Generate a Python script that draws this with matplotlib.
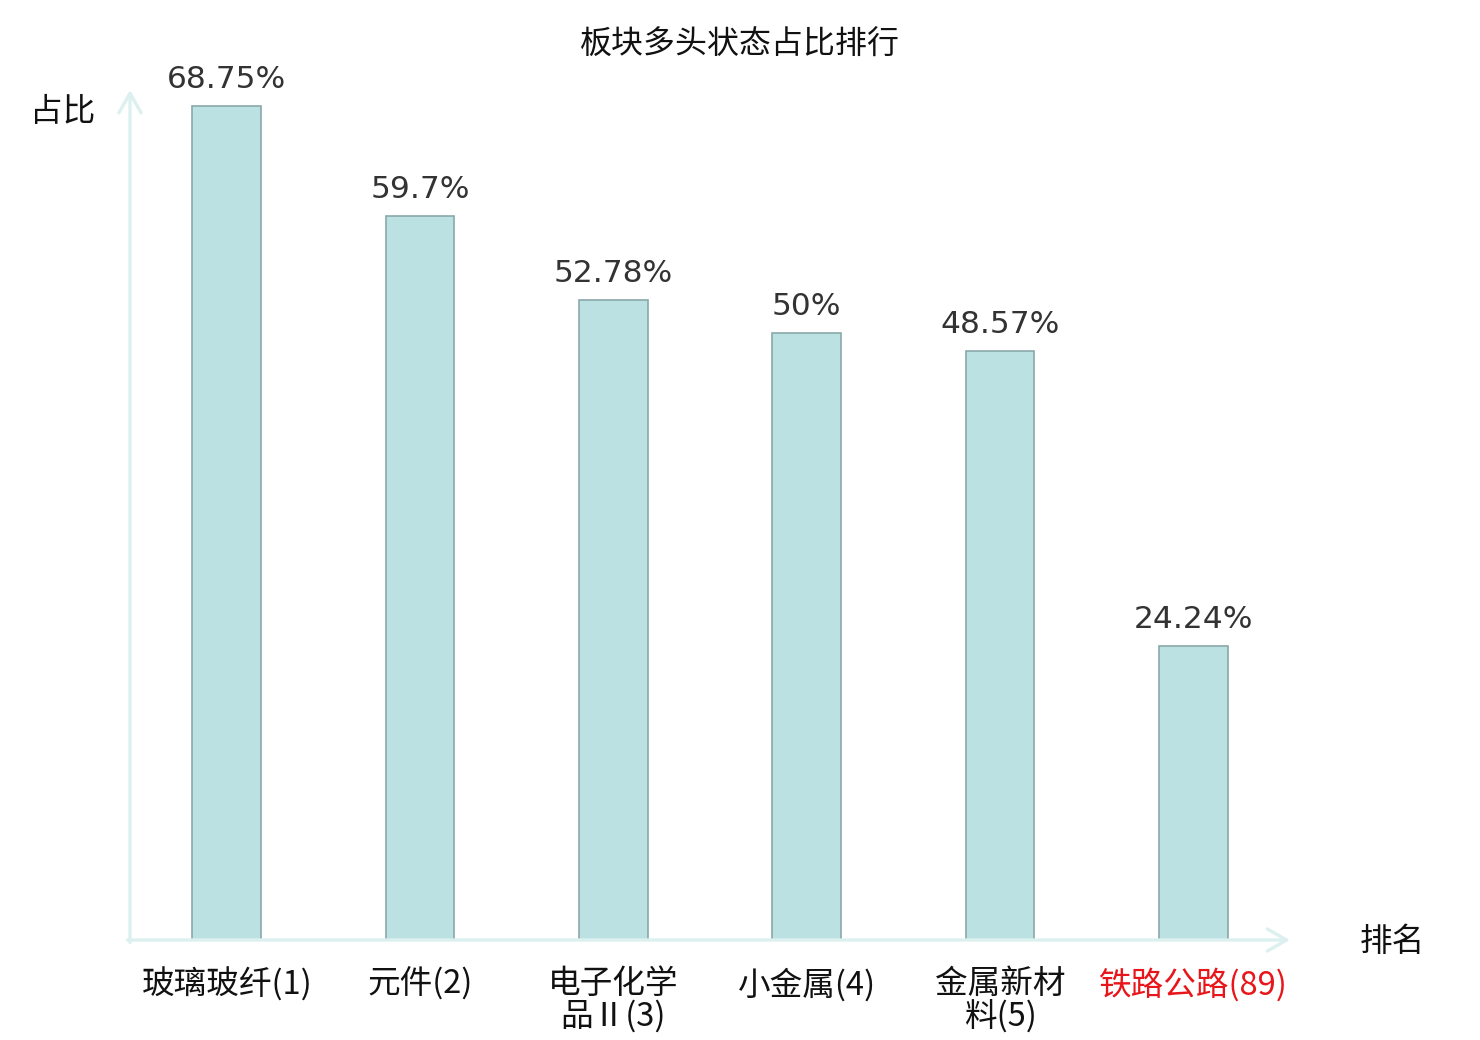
import matplotlib
matplotlib.use('Agg')
import matplotlib.pyplot as plt
import numpy as np

plt.rcParams['font.family'] = ['Noto Sans CJK SC', 'DejaVu Sans']

# data
categories = ['玻璃玻纤(1)', '元件(2)', '电子化学\n品Ⅱ(3)', '小金属(4)', '金属新材\n料(5)', '铁路公路(89)']
values = [68.75, 59.7, 52.78, 50, 48.57, 24.24]
value_labels = ['68.75%', '59.7%', '52.78%', '50%', '48.57%', '24.24%']
label_colors = ['#111111', '#111111', '#111111', '#111111', '#111111', '#e8161b']

bar_fill = '#bce1e3'
bar_edge = '#8aa8aa'
axis_color = '#dcf1ef'

fig = plt.figure(figsize=(14.8, 10.4), dpi=100)
ax = fig.add_axes([130 / 1480, 100 / 1040, 1160 / 1480, 850 / 1040])

x = np.arange(len(categories))
ax.bar(x, values, width=0.355, color=bar_fill, edgecolor=bar_edge, linewidth=1.2, zorder=3)

for xi, v, lab in zip(x, values, value_labels):
    ax.text(xi, v + 1.0, lab, ha='center', va='bottom', fontsize=22.5,
            color='#333333', family='DejaVu Sans')

ax.set_xlim(-0.5, len(categories) - 0.5)
ax.set_ylim(0, 70.07)

for s in ax.spines.values():
    s.set_visible(False)
ax.set_yticks([])
ax.set_xticks(x)
ax.set_xticklabels(categories, fontsize=23.5, linespacing=1.0)
ax.tick_params(axis='x', length=0, pad=20)
for t, c in zip(ax.get_xticklabels(), label_colors):
    t.set_color(c)

# axis arrows
arrow = dict(arrowstyle='->,head_length=1.4,head_width=0.8', color=axis_color, lw=2.4,
             shrinkA=0, shrinkB=0)
ax.annotate('', xy=(0, 1.0), xytext=(0, -0.003), xycoords='axes fraction',
            arrowprops=arrow, annotation_clip=False)
ax.annotate('', xy=(1.0, 0), xytext=(-0.002, 0), xycoords='axes fraction',
            arrowprops=arrow, annotation_clip=False)

fig.text(63 / 1480, 1 - 112 / 1040, '占比', ha='center', va='center', fontsize=23.5, color='#111111')
fig.text(1392 / 1480, 1 - 942 / 1040, '排名', ha='center', va='center', fontsize=23.5, color='#111111')
fig.text(740 / 1480, 1 - 45 / 1040, '板块多头状态占比排行', ha='center', va='center', fontsize=23, color='#111111')

fig.savefig('out.png', dpi=100)
